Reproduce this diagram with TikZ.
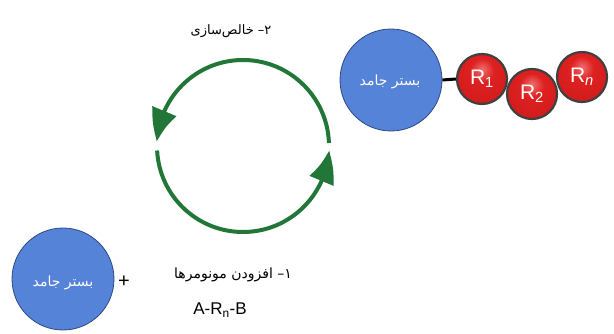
\documentclass[tikz,border=0pt]{standalone}
\usepackage{fontspec}
\setmainfont{Liberation Sans}
\newfontfamily\arabicfont[Script=Arabic]{DejaVu Sans}
\TeXXeTstate=1
\usetikzlibrary{arrows.meta,bending,calc}

\definecolor{substrate}{RGB}{84,131,216}
\definecolor{substrateedge}{RGB}{47,72,130}
\definecolor{cyclegreen}{RGB}{34,119,56}
\definecolor{beadshine}{RGB}{240,110,110}
\definecolor{beadlight}{RGB}{222,32,32}
\definecolor{beaddark}{RGB}{140,8,8}
\definecolor{beadedge}{RGB}{64,64,64}

% glossy red bead: bright spot above the centre, darker rim
\pgfdeclareradialshading{beadshade}{\pgfpoint{0bp}{10bp}}{%
  color(0bp)=(beadshine); color(12bp)=(beadlight); color(36bp)=(beadlight!80!beaddark);
  color(56bp)=(beaddark); color(80bp)=(beaddark)}

\tikzset{
  support/.style={circle, draw=substrateedge, line width=0.8pt, fill=substrate,
    minimum size=102pt, inner sep=0pt},
  supporttext/.style={text=white, font=\arabicfont\fontsize{14}{16}\selectfont},
  bead/.style={circle, draw=beadedge, line width=2.2pt, shading=beadshade,
    minimum size=50pt, inner sep=0pt, text=white,
    font=\fontsize{21}{23}\selectfont},
  cyclearc/.style={draw=cyclegreen, line width=4pt,
    -{Triangle[length=32pt,width=25pt,bend]}},
  steplabel/.style={font=\arabicfont\fontsize{14}{16}\selectfont},
}

\begin{document}
\begin{tikzpicture}[x=1pt,y=1pt]
  \useasboundingbox (0,0) rectangle (614,333);

  % purification / monomer addition cycle
  \coordinate (cyc) at (243,187);
  \draw[cyclearc] ($(cyc)+(2:86)$) arc[start angle=2, end angle=177, radius=86];
  \draw[cyclearc] ($(cyc)+(183:86)$) arc[start angle=183, end angle=357, radius=86];

  \node[steplabel, font=\arabicfont\fontsize{13}{15}\selectfont] (purify) at (231,302) {\beginR ۲– خالص‌سازی\endR};

  % support with grown chain
  \node[support] (top) at (391,253) {};
  \node[supporttext] (toptext) at (390,251) {\beginR بستر جامد\endR};
  \node[bead] (r1) at (482,254) {R\textsubscript{1}};
  \node[bead] (r2) at (532,239) {R\textsubscript{2}};
  \node[bead] (rn) at (582,256) {R\textsubscript{\itshape n}};
  \draw[line width=3pt] (top.east) -- (r1.west);

  % bare support and monomers
  \node[support] (bottom) at (63,54) {};
  \node[supporttext] (bottomtext) at (63,50) {\beginR بستر جامد\endR};
  \node[font=\fontsize{20}{22}\selectfont] (plus) at (124,51) {+};
  \node[steplabel] (addmono) at (233,58) {\beginR ۱– افزودن مونومرها\endR};
  \node[font=\fontsize{17}{19}\selectfont] (monomer) at (220,23) {A-R\textsubscript{n}-B};
\end{tikzpicture}
\end{document}
